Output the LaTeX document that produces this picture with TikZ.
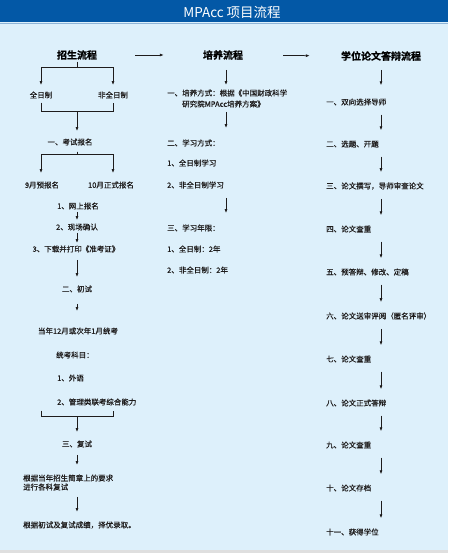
\documentclass[tikz,border=0pt]{standalone}
\usepackage{fontspec}
\setmainfont{Noto Sans CJK SC}
\newfontfamily\zhengwen{Noto Sans CJK SC}[FakeBold=0.6]
\newfontfamily\cuti{Noto Sans CJK SC Bold}[FakeBold=0.8]
\definecolor{lanse}{RGB}{3, 88, 166}
\definecolor{qianlan}{RGB}{221, 240, 251}
\definecolor{shenhui}{RGB}{30, 28, 28}
\usetikzlibrary{arrows.meta}
\usetikzlibrary{positioning}
\usetikzlibrary{calc}

\begin{document}
\begin{tikzpicture}[x=1pt, y=-1pt,
    txt/.style={inner sep=1pt, text=shenhui, font=\zhengwen\fontsize{7.5}{9}\selectfont},
    biaoti/.style={inner sep=1pt, text=black, font=\cuti\fontsize{10}{12}\selectfont},
    jt/.style={-{Latex[length=4pt,width=3pt]}, shenhui, line width=0.75pt},
    xian/.style={shenhui, line width=0.75pt},
    jtR/.style={jt, shorten <=8pt, shorten >=9pt}]

    % Background and title bar
    \useasboundingbox (0,0) rectangle (448,553);
    \fill[qianlan] (0,0) rectangle (448,553);
    \fill[gray!25] (0,550) rectangle (448,553);
    \fill[lanse] (0,0.5) rectangle (448,22.5);
    \draw[lanse!45, line width=0.8pt] (0,23) -- (448,23);
    \node[text=white, inner sep=0pt, font=\fontsize{13.5}{15}\selectfont] (title) at (232,12) {MPAcc 项目流程};

    % Axes of the three columns
    \coordinate (axisL) at (77,0);
    \coordinate (axisM) at (226,0);
    \coordinate (axisR) at (381,0);

    % Headings
    \node[biaoti] (zs) at (77,55) {招生流程};
    \node[biaoti] (pyhead) at (223,55) {培养流程};
    \node[biaoti] (xwhead) at (381,56) {学位论文答辩流程};
    \draw[jt, shorten <=37pt, shorten >=38pt] (zs.east) -- (pyhead.west);
    \draw[jt, shorten <=39pt, shorten >=30pt] (pyhead.east) -- (xwhead.west);

    % Admission (left column)
    \node[txt] (qrz) at (41,95) {全日制};
    \node[txt] (fqrz) at (113,95) {非全日制};
    \node[txt] (ks) at (70,142) {一、考试报名};
    \node[txt] (yb) at (42,185) {9月预报名};
    \node[txt] (zb) at (111,185) {10月正式报名};
    \node[txt] (s1) at (78,206) {1、网上报名};
    \node[txt] (s2) at (77,227) {2、现场确认};
    \node[txt] (s3) at (76,249) {3、下载并打印《准考证》};
    \node[txt] (cs) at (77,289) {二、初试};
    \node[txt] (tk) at (78,331) {当年12月或次年1月统考};
    \node[txt, anchor=west] (km) at (55,355) {统考科目：};
    \node[txt, anchor=west] (km1) at (56,378) {1、外语};
    \node[txt, anchor=west] (km2) at (56,402) {2、管理类联考综合能力};
    \node[txt] (fs) at (77,444) {三、复试};
    \node[txt, anchor=west, align=left] (fsyq) at (22,482.5) {根据当年招生简章上的要求\\进行各科复试};
    \node[txt, anchor=west] (lq) at (22,525) {根据初试及复试成绩，择优录取。};

    \draw[jt, shorten <=1pt, shorten >=5.25pt] (zs.south) -- ++(0,6) -| (qrz.north);
    \draw[jt, shorten <=1pt, shorten >=5.25pt] (zs.south) -- ++(0,6) -| (fqrz.north);
    \draw[xian] ($(qrz.south)+(0,3)$) -- ++(0,9) -| ($(fqrz.south)+(0,3)$);
    \draw[jt, shorten >=6.25pt] ($(qrz.south -| axisL)+(0,12)$) -- (ks.north -| axisL);
    \draw[jt, shorten >=7.25pt] ($(ks.south -| axisL)+(0,5)$) -- ++(0,3) -| (qrz |- yb.north);
    \draw[jt, shorten >=7.25pt] ($(ks.south -| axisL)+(0,5)$) -- ++(0,3) -| (fqrz |- zb.north);
    \draw[jt, shorten <=1.25pt, shorten >=2.25pt] (s1.south -| axisL) -- (s2.north -| axisL);
    \draw[jt, shorten <=1.25pt, shorten >=1.25pt] (s2.south -| axisL) -- (s3.north -| axisL);
    \draw[jt, shorten <=6.25pt, shorten >=7.25pt] (s3.south -| axisL) -- (cs.north -| axisL);
    \draw[jt, shorten <=10.25pt, shorten >=15.25pt] (cs.south -| axisL) -- (tk.north -| axisL);
    \draw[xian] ($(km2.south -| qrz)+(0,4)$) -- ++(0,6) -| ($(km2.south -| fqrz)+(0,4)$);
    \draw[jt, shorten >=7.25pt] ($(km2.south -| axisL)+(0,10)$) -- (fs.north -| axisL);
    \draw[jt, shorten <=6.25pt, shorten >=8.25pt] (fs.south -| axisL) -- (fsyq.north -| axisL);
    \draw[jt, shorten <=5.25pt, shorten >=8.25pt] (fsyq.south -| axisL) -- (lq.north -| axisL);

    % Training (middle column)
    \node[txt, anchor=west, align=left, font=\zhengwen\fontsize{7.5}{11}\selectfont] (py1) at (166,98.5) {一、培养方式：根据《中国财政科学\\\hspace*{2em}研究院MPAcc培养方案》};
    \node[txt, anchor=west] (py2) at (166,143) {二、学习方式：};
    \node[txt, anchor=west] (py2a) at (166,163) {1、全日制学习};
    \node[txt, anchor=west] (py2b) at (166,185) {2、非全日制学习};
    \node[txt, anchor=west] (py3) at (166,228) {三、学习年限：};
    \node[txt, anchor=west] (py3a) at (166,249) {1、全日制：2年};
    \node[txt, anchor=west] (py3b) at (166,270) {2、非全日制：2年};

    \draw[jt, shorten <=9pt, shorten >=3.25pt] (pyhead.south -| axisM) -- (py1.north -| axisM);
    \draw[jt, shorten <=3.25pt, shorten >=10.25pt] (py1.south -| axisM) -- (py2.north -| axisM);
    \draw[jt, shorten <=8.25pt, shorten >=10.25pt] (py2b.south -| axisM) -- (py3.north -| axisM);

    % Degree thesis defence (right column)
    \node[txt, anchor=west] (r1) at (325,102) {一、双向选择导师};
    \node[txt, anchor=west] (r2) at (325,144) {二、选题、开题};
    \node[txt, anchor=west] (r3) at (325,186) {三、论文撰写，导师审查论文};
    \node[txt, anchor=west] (r4) at (325,229) {四、论文查重};
    \node[txt, anchor=west] (r5) at (325,272) {五、预答辩、修改、定稿};
    \node[txt, anchor=west] (r6) at (325,316) {六、论文送审评阅（匿名评审）};
    \node[txt, anchor=west] (r7) at (325,359) {七、论文查重};
    \node[txt, anchor=west] (r8) at (325,403) {八、论文正式答辩};
    \node[txt, anchor=west] (r9) at (325,445) {九、论文查重};
    \node[txt, anchor=west] (r10) at (325,488) {十、论文存档};
    \node[txt, anchor=west] (r11) at (325,532) {十一、获得学位};

    \draw[jt, shorten <=8pt, shorten >=12pt] (xwhead.south -| axisR) -- (r1.north -| axisR);
    \draw[jtR] (r1.south -| axisR) -- (r2.north -| axisR);
    \draw[jtR] (r2.south -| axisR) -- (r3.north -| axisR);
    \draw[jtR] (r3.south -| axisR) -- (r4.north -| axisR);
    \draw[jtR] (r4.south -| axisR) -- (r5.north -| axisR);
    \draw[jtR] (r5.south -| axisR) -- (r6.north -| axisR);
    \draw[jtR] (r6.south -| axisR) -- (r7.north -| axisR);
    \draw[jtR] (r7.south -| axisR) -- (r8.north -| axisR);
    \draw[jtR] (r8.south -| axisR) -- (r9.north -| axisR);
    \draw[jtR] (r9.south -| axisR) -- (r10.north -| axisR);
    \draw[jtR] (r10.south -| axisR) -- (r11.north -| axisR);
\end{tikzpicture}
\end{document}
